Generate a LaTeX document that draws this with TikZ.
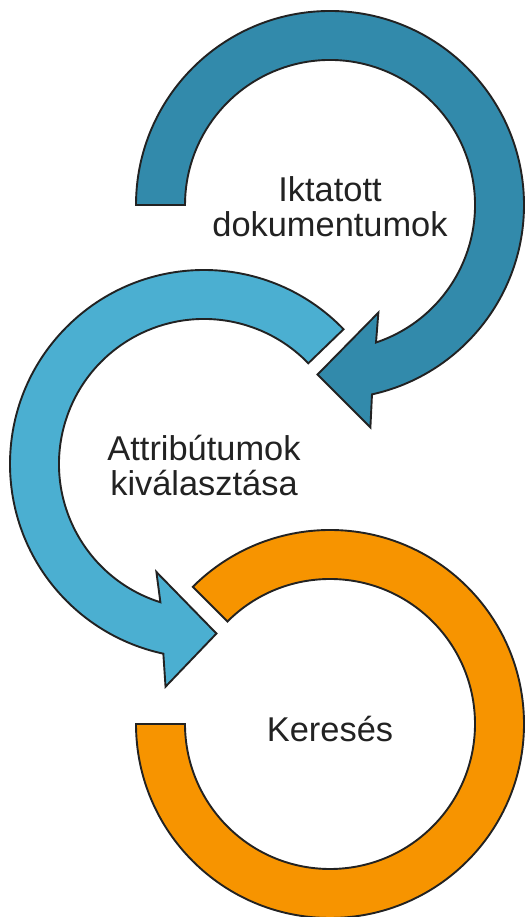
\documentclass[tikz,border=0pt]{standalone}
\usepackage{fontspec}
\setmainfont{Liberation Sans}
\definecolor{darkteal}{HTML}{328AAB}
\definecolor{lightteal}{HTML}{4BAFD1}
\definecolor{searchorange}{HTML}{F79400}
\definecolor{inkgray}{HTML}{222222}
\begin{document}
\begin{tikzpicture}[x = 1pt, y = 1pt,
        ring/.style = {draw = inkgray, line width = 1.9pt, line join = miter},
        steplabel/.style = {text = inkgray, align = center, inner sep = 0pt,
            font = \fontsize{34.4}{35}\selectfont}]
    \useasboundingbox (0,0) rectangle (525,917);
    % top ring, arrow into the middle one
    \draw[ring, fill = darkteal, shift = {(330,712)}] (180:194) arc[start angle = 180, end angle = -77.5, radius = 194]
        -- (-79.7:226) -- (-94.2:170) -- (-65.8:118) -- (-71.5:145)
        arc[start angle = -71.5, end angle = 180, radius = 145] -- cycle;
    % middle ring, arrow into the bottom one
    \draw[ring, fill = lightteal, shift = {(204,453)}] (44:194) arc[start angle = 44, end angle = 257.9, radius = 194]
        -- (260.2:226) -- (274.2:170) -- (246.2:118) -- (252.5:145)
        arc[start angle = 252.5, end angle = 44, radius = 145] -- cycle;
    % bottom ring
    \draw[ring, fill = searchorange, shift = {(330,193)}] (180:194) arc[start angle = 180, end angle = 495, radius = 194]
        -- (135:145) arc[start angle = 135, end angle = -180, radius = 145] -- cycle;
    \node[steplabel] (docs) at (330,710) {Iktatott\\dokumentumok};
    \node[steplabel] (attrs) at (204,451) {Attribútumok\\kiválasztása};
    \node[steplabel, anchor = base] (search) at (330,175) {Keresés};
\end{tikzpicture}
\end{document}
